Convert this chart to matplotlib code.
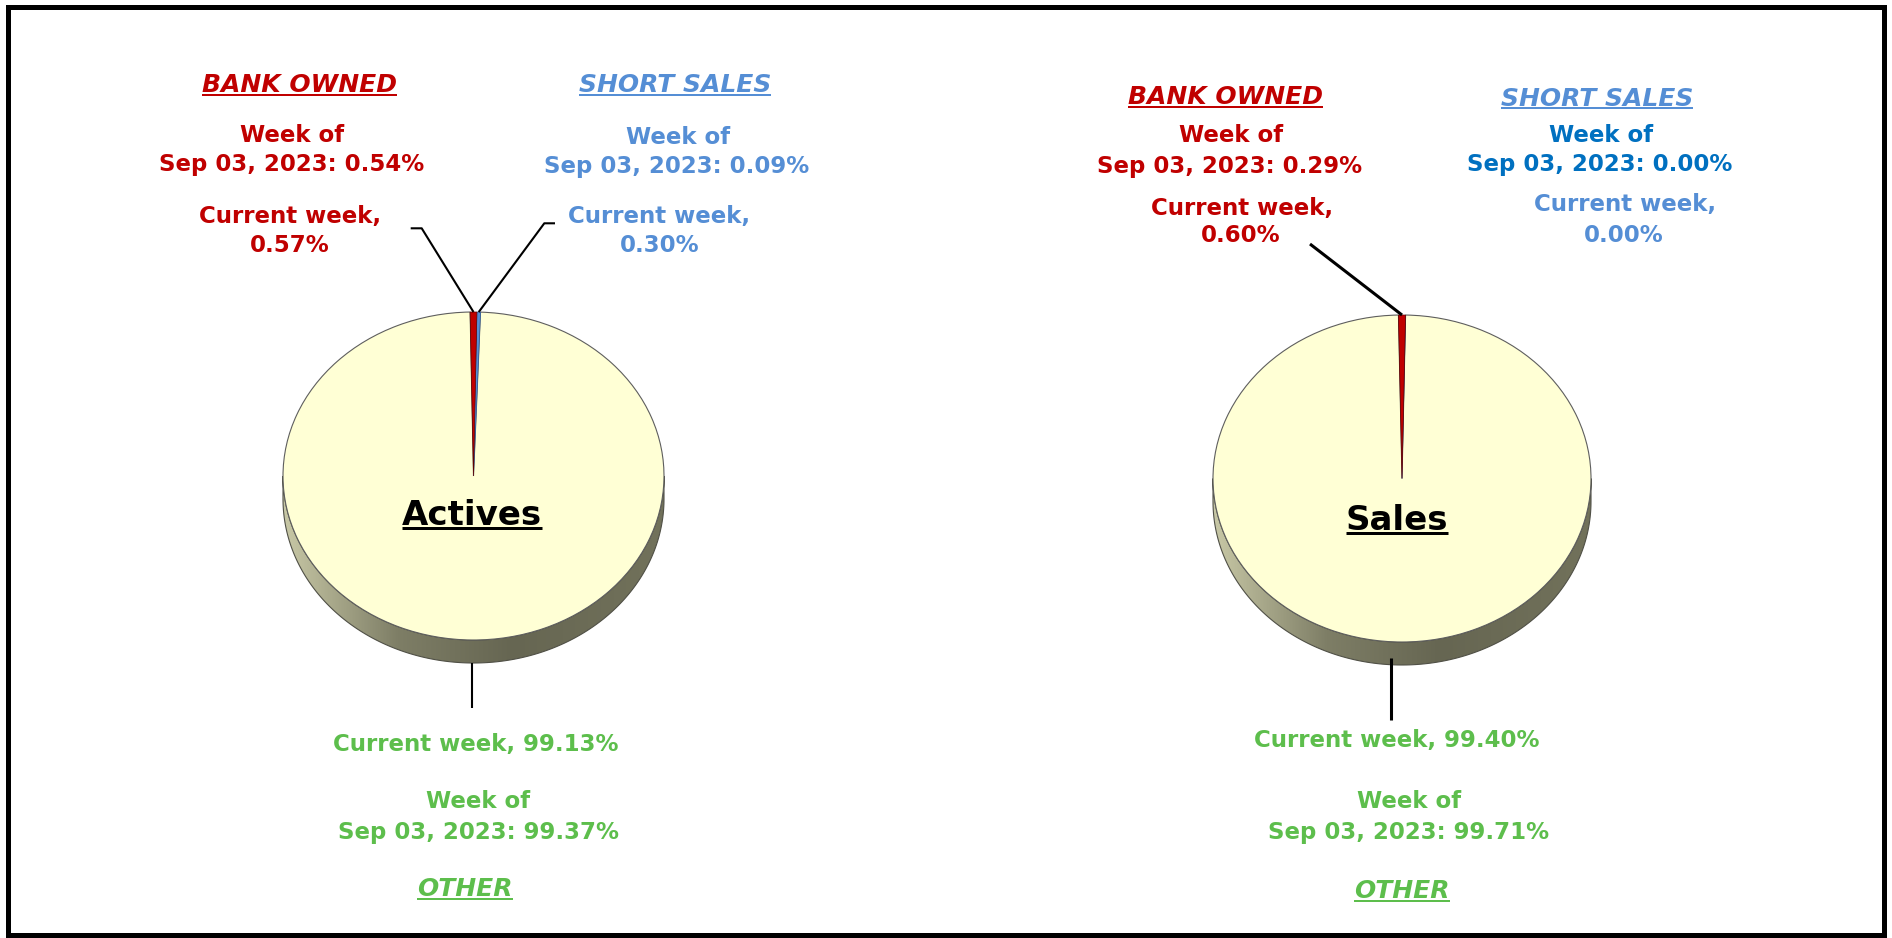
import numpy as np
import matplotlib
matplotlib.use("Agg")
import matplotlib.pyplot as plt
from matplotlib.transforms import Affine2D
from matplotlib.patches import Polygon, Rectangle
from matplotlib.colors import LinearSegmentedColormap

# shares in percent, order: bank owned, short sales, other
actives_current = [0.57, 0.30, 99.13]
actives_prior = [0.54, 0.09, 99.37]
sales_current = [0.60, 0.00, 99.40]
sales_prior = [0.29, 0.00, 99.71]
prior_week = "Sep 03, 2023"

RED = "#C00000"
BLUE = "#558ED5"
DARKBLUE = "#0070C0"
GREEN = "#5DBE4C"
PIE_TOP = "#FFFFD5"

W, H = 1892, 938
fig = plt.figure(figsize=(W / 100, H / 100), dpi=100)
ax = fig.add_axes([0, 0, 1, 1])
ax.set_axis_off()

side_cmap = LinearSegmentedColormap.from_list(
    "side", [(0, "#C8C8A6"), (0.3, "#7E7E66"), (0.6, "#666652"), (1, "#72725B")])


def draw_pie(vals, cx, cy, rx, ry, depth):
    # side of the disc first
    t = np.linspace(0, np.pi, 200)
    xs = cx + rx * np.cos(t)
    ys = cy + ry * np.sin(t)
    pts = np.vstack([np.column_stack([xs, ys]),
                     np.column_stack([xs[::-1], ys[::-1] + depth])])
    side = Polygon(pts, closed=True, facecolor="none", edgecolor="#505046",
                   lw=0.8, zorder=2)
    ax.add_patch(side)
    grad = side_cmap(np.linspace(0, 1, 256))[None, :, :3]
    im = ax.imshow(grad, extent=(cx - rx, cx + rx, cy + ry + depth, cy),
                   aspect="auto", zorder=1)
    im.set_clip_path(side)

    # top face, drawn as unit pie then squashed into the ellipse
    start = 90 + vals[0] * 3.6 / 2
    wedges, _ = ax.pie(vals, colors=[RED, BLUE, PIE_TOP], startangle=start,
                       counterclock=False,
                       wedgeprops=dict(edgecolor="#5E5E5E", linewidth=0.8))
    wedges[0].set_edgecolor("#600000")
    wedges[0].set_linewidth(0.5)
    wedges[1].set_edgecolor("#2F5F9F")
    wedges[1].set_linewidth(0.5)
    tr = Affine2D().scale(rx, -ry).translate(cx, cy) + ax.transData
    pts = []
    for i, w in enumerate(wedges):
        w.set_transform(tr)
        w.set_zorder(3 + i)
        a = np.deg2rad((w.theta1 + w.theta2) / 2)
        pts.append((cx + rx * np.cos(a), cy - ry * np.sin(a)))
    # keep the small slices on top of the big one
    wedges[0].set_zorder(5)
    wedges[1].set_zorder(4)
    wedges[2].set_zorder(3)
    return pts


underlined = []


def label(x, y, s, color, size=16.5, italic=False, under=False, uw=2.0):
    t = ax.text(x, y, s, color=color, fontsize=size, fontweight="bold",
                fontstyle="italic" if italic else "normal",
                ha="center", va="baseline", zorder=6)
    if under:
        underlined.append((t, uw))
    return t


def leader(pts, lw):
    xs, ys = zip(*pts)
    ax.plot(xs, ys, color="black", lw=lw, solid_capstyle="butt", zorder=6)


def pct(v):
    return f"{v:.2f}%"


# ---- Actives ----
tips = draw_pie(actives_current, 473.5, 476, 190.5, 164, 23)
label(472, 525, "Actives", "black", size=24.5, under=True, uw=3)

label(299, 92, "BANK OWNED", RED, size=18, italic=True, under=True)
label(292, 141.5, "Week of", RED)
label(292, 171.5, f"{prior_week}: {pct(actives_prior[0])}", RED)
label(290, 222.5, "Current week,", RED)
label(290, 251.5, pct(actives_current[0]), RED)
leader([tips[0], (421.7, 228.3), (410.7, 228.3)], 1.5)

label(675, 92, "SHORT SALES", BLUE, size=18, italic=True, under=True)
label(678, 143.5, "Week of", BLUE)
label(677, 173.5, f"{prior_week}: {pct(actives_prior[1])}", BLUE)
label(659, 222.5, "Current week,", BLUE)
label(660, 251.5, pct(actives_current[1]), BLUE)
leader([tips[1], (544.3, 223.3), (555, 223.3)], 1.5)

label(476, 750.5, f"Current week, {pct(actives_current[2])}", GREEN)
label(478, 808.5, "Week of", GREEN)
label(478, 838.5, f"{prior_week}: {pct(actives_prior[2])}", GREEN)
label(465, 896, "OTHER", GREEN, size=18, italic=True, under=True)
leader([(472, 476 + 164 + 23), (472, 708)], 1.5)

# ---- Sales ----
tips = draw_pie(sales_current, 1402, 478.5, 189, 163.5, 23)
label(1397, 530.5, "Sales", "black", size=24.5, under=True, uw=3)

label(1225, 104, "BANK OWNED", RED, size=18, italic=True, under=True)
label(1231, 142.5, "Week of", RED)
label(1230, 172.5, f"{prior_week}: {pct(sales_prior[0])}", RED)
label(1242, 214.5, "Current week,", RED)
label(1241, 242.5, pct(sales_current[0]), RED)
leader([tips[0], (1310, 244)], 2.2)

label(1597, 105.5, "SHORT SALES", BLUE, size=18, italic=True, under=True)
label(1601, 141.5, "Week of", DARKBLUE)
label(1600, 171.5, f"{prior_week}: {pct(sales_prior[1])}", DARKBLUE)
label(1625, 211.5, "Current week,", BLUE)
label(1624, 241.5, pct(sales_current[1]), BLUE)

label(1397, 747.5, f"Current week, {pct(sales_current[2])}", GREEN)
label(1409, 807.5, "Week of", GREEN)
label(1409, 838.5, f"{prior_week}: {pct(sales_prior[2])}", GREEN)
label(1402, 898.5, "OTHER", GREEN, size=18, italic=True, under=True)
leader([(1391, 658), (1391, 720)], 2.2)

# frame round the whole picture
ax.add_patch(Rectangle((7.5, 7.5), 1876, 928, fill=False, edgecolor="black",
                       lw=3.6, zorder=7))

ax.set_xlim(0, W)
ax.set_ylim(H, 0)
ax.set_aspect("auto")

# underlines need the rendered text extents
fig.canvas.draw()
for t, uw in underlined:
    bb = t.get_window_extent()
    y = t.get_position()[1] + 3
    ax.plot([bb.x0, bb.x1], [y, y], color=t.get_color(), lw=uw * 0.72,
            solid_capstyle="butt", zorder=6)

fig.savefig("out.png", dpi=100)
